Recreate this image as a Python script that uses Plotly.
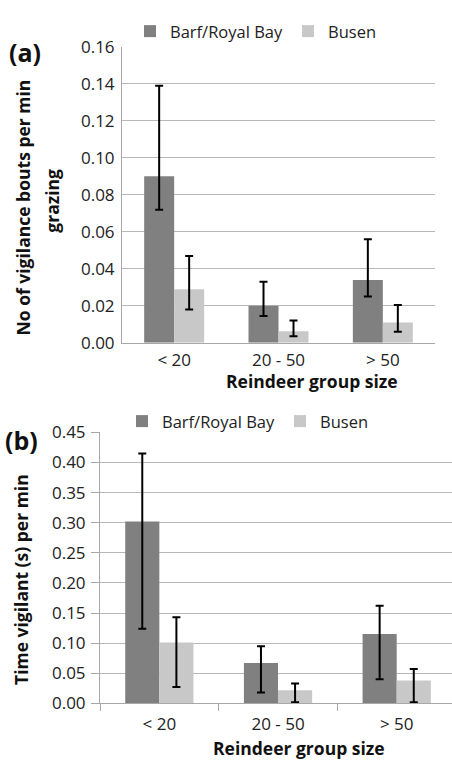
import plotly.graph_objects as go

categories = ["< 20", "20 - 50", "> 50"]
series_names = ["Barf/Royal Bay", "Busen"]

a_barf = [0.090, 0.020, 0.034]
a_barf_hi = [0.139, 0.033, 0.056]
a_barf_lo = [0.072, 0.0145, 0.025]
a_busen = [0.029, 0.0063, 0.011]
a_busen_hi = [0.047, 0.012, 0.0205]
a_busen_lo = [0.018, 0.0035, 0.006]

b_barf = [0.302, 0.067, 0.115]
b_barf_hi = [0.415, 0.095, 0.162]
b_barf_lo = [0.124, 0.018, 0.040]
b_busen = [0.101, 0.022, 0.038]
b_busen_hi = [0.143, 0.033, 0.057]
b_busen_lo = [0.027, 0.002, 0.002]

a_ticks = [0.00, 0.02, 0.04, 0.06, 0.08, 0.10, 0.12, 0.14, 0.16]
b_ticks = [0.00, 0.05, 0.10, 0.15, 0.20, 0.25, 0.30, 0.35, 0.40, 0.45]

W, H = 452, 769
C_BARF = "#808080"
C_BUSEN = "#c8c8c8"
FONT = "Open Sans"


def px(x):
    return x / W


def py(y):
    return 1 - y / H


def err(vals, hi, lo):
    return dict(type="data", symmetric=False,
                array=[h - v for v, h in zip(vals, hi)],
                arrayminus=[v - l for v, l in zip(vals, lo)],
                color="black", thickness=2, width=4)


fig = go.Figure()
fig.add_trace(go.Bar(x=categories, y=a_barf, name=series_names[0], marker_color=C_BARF,
                     error_y=err(a_barf, a_barf_hi, a_barf_lo), xaxis="x", yaxis="y",
                     legend="legend", marker_line_width=0))
fig.add_trace(go.Bar(x=categories, y=a_busen, name=series_names[1], marker_color=C_BUSEN,
                     error_y=err(a_busen, a_busen_hi, a_busen_lo), xaxis="x", yaxis="y",
                     legend="legend", marker_line_width=0))
fig.add_trace(go.Bar(x=categories, y=b_barf, name=series_names[0], marker_color=C_BARF,
                     error_y=err(b_barf, b_barf_hi, b_barf_lo), xaxis="x2", yaxis="y2",
                     legend="legend2", marker_line_width=0))
fig.add_trace(go.Bar(x=categories, y=b_busen, name=series_names[1], marker_color=C_BUSEN,
                     error_y=err(b_busen, b_busen_hi, b_busen_lo), xaxis="x2", yaxis="y2",
                     legend="legend2", marker_line_width=0))

tickfont = dict(family=FONT, size=17, color="#222")
grid = "#b8b8b8"
line = "#a8a8a8"

fig.update_layout(
    width=W, height=H,
    margin=dict(l=0, r=0, t=0, b=0),
    paper_bgcolor="white", plot_bgcolor="white",
    barmode="group", bargap=0.425, bargroupgap=0,
    font=dict(family=FONT, color="#222"),
    xaxis=dict(domain=[px(122), px(435)], anchor="y", range=[-0.5, 2.5],
               showline=True, linecolor=line, linewidth=1, tickfont=tickfont,
               ticks="", showgrid=False, ticklabelstandoff=2),
    yaxis=dict(domain=[py(341), py(36)], anchor="x", range=[0, 0.16],
               tickvals=a_ticks, ticktext=[f"{t:.2f}" for t in a_ticks],
               showline=True, linecolor=line, linewidth=1, showgrid=True,
               gridcolor=grid, gridwidth=1, tickfont=tickfont, ticks="",
               zeroline=False, ticklabelstandoff=3),
    xaxis2=dict(domain=[px(100), 1.0], anchor="y2", range=[-0.5, 2.466],
                showline=True, linecolor=line, linewidth=1, tickfont=tickfont,
                ticks="outside", tickson="boundaries", ticklen=7, tickcolor=line,
                showgrid=False, ticklabelstandoff=5),
    yaxis2=dict(domain=[py(712.7), py(433.3)], anchor="x2", range=[0, 0.45],
                tickvals=b_ticks, ticktext=[f"{t:.2f}" for t in b_ticks],
                showline=True, linecolor=line, linewidth=1, showgrid=True,
                gridcolor=grid, gridwidth=1, tickfont=tickfont,
                ticks="outside", ticklen=8, tickcolor=line, zeroline=False,
                ticklabelstandoff=2),
    legend=dict(orientation="h", x=px(256), y=py(20), xanchor="center", yanchor="middle",
                font=dict(family=FONT, size=16.5, color="#222"), itemwidth=30,
                bgcolor="rgba(0,0,0,0)"),
    legend2=dict(orientation="h", x=px(248), y=py(422), xanchor="center", yanchor="middle",
                 font=dict(family=FONT, size=16.5, color="#222"), itemwidth=30,
                 bgcolor="rgba(0,0,0,0)"),
)

bold = dict(family=FONT, size=17.5, color="#111")
ann = [
    dict(text="<b>(a)</b>", x=px(25), y=py(41), font=dict(family=FONT, size=25, color="#111")),
    dict(text="<b>(b)</b>", x=px(21), y=py(441), font=dict(family=FONT, size=25, color="#111")),
    dict(text="<b>Reindeer group size</b>", x=px(311.5), y=py(380), font=bold),
    dict(text="<b>Reindeer group size</b>", x=px(299), y=py(759), font=bold),
    dict(text="<b>No of vigilance bouts per min</b>", x=px(22.5), y=py(202), font=bold, textangle=-90),
    dict(text="<b>grazing</b>", x=px(52.5), y=py(195), font=bold, textangle=-90),
    dict(text="<b>Time vigilant (s) per min</b>", x=px(20.5), y=py(585), font=bold, textangle=-90),
]
for a in ann:
    fig.add_annotation(xref="paper", yref="paper", showarrow=False,
                       xanchor="center", yanchor="middle", **a)

fig.write_html("out.html")
